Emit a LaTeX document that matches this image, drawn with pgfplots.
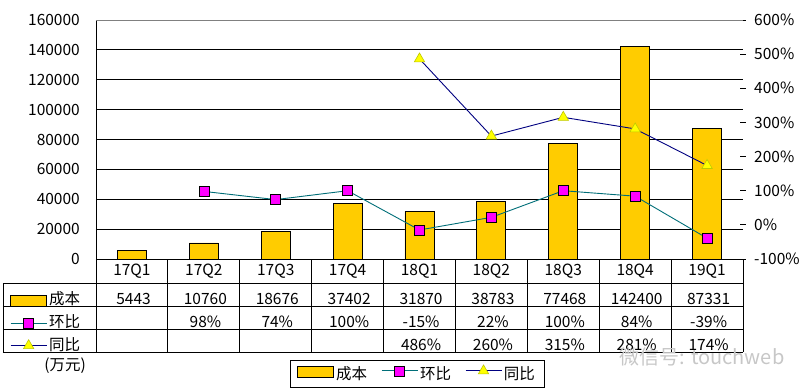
\documentclass[border=0pt]{standalone}
\usepackage{fontspec}
\setmainfont{Noto Sans CJK SC}
\usepackage{pgfplots}
\pgfplotsset{compat=1.18}
\definecolor{barfill}{RGB}{255,204,0}
\definecolor{qoq}{RGB}{0,110,120}
\definecolor{yoy}{RGB}{0,0,128}
\definecolor{sq}{RGB}{255,0,255}
\definecolor{tri}{RGB}{255,255,0}
\definecolor{triedge}{RGB}{190,200,0}
\newcommand{\tf}{\fontsize{15.5bp}{18bp}\selectfont}
\pgfplotsset{
  barkey/.style={fill=barfill, draw=black, line width=0.8bp},
  qoqstyle/.style={color=qoq, line width=0.9bp, mark=square*, mark size=5bp,
     mark options={fill=sq, draw=black, line width=0.6bp, solid}},
  yoystyle/.style={color=yoy, line width=0.9bp, mark=triangle*, mark size=6bp,
     mark options={fill=tri, draw=triedge, line width=0.6bp, solid}},
  barimage/.style={legend image code/.code={\draw[fill=barfill, draw=black, line width=0.8bp] (0bp,-2bp) rectangle (36bp,9bp);}},
  lineimage/.style={legend image code/.code={\draw[mark repeat=2,mark phase=2,##1] plot coordinates {(0bp,4.5bp) (18bp,4.5bp) (36bp,4.5bp)};}},
  keyaxis/.style={at={(0,0)}, anchor=south west, scale only axis, width=647bp, height=239bp,
    xmin=0, xmax=1, ymin=0, ymax=1, hide axis,
    legend style={at={(-0.1329,#1)}, anchor=north west, draw=none, fill=none,
      inner sep=0pt, font=\tf,
      nodes={inner xsep=2bp, inner ysep=0pt, text height=12bp, text depth=3bp, anchor=base west}},
    legend cell align=left},
}
\begin{document}
\begin{tikzpicture}
% left axis: bars
\begin{axis}[
  at={(0,0)}, anchor=south west,
  scale only axis, width=647bp, height=239bp,
  xmin=-0.5, xmax=8.5, ymin=0, ymax=160000,
  xtick=\empty, scaled y ticks=false,
  ytick={0,20000,40000,60000,80000,100000,120000,140000,160000},
  yticklabels={0,20000,40000,60000,80000,100000,120000,140000,160000},
  ymajorgrids, grid style={black, line width=0.8bp},
  major tick length=0pt,
  axis line style={draw=none},
  yticklabel style={font=\tf, inner sep=0pt, anchor=east, xshift=-16bp},
  legend columns=3,
  legend style={at={(0.2998,-0.4226)}, anchor=north west, draw=black, line width=0.8bp,
    inner xsep=7bp, inner ysep=4.5bp, font=\tf,
    nodes={inner xsep=2bp, inner ysep=0pt, text height=12bp, text depth=3bp},
    /tikz/every even column/.append style={column sep=12bp}},
  legend cell align=left,
]
\addplot[ybar, bar width=29bp, barkey, forget plot] coordinates {
  (0,5443) (1,10760) (2,18676) (3,37402) (4,31870) (5,38783) (6,77468) (7,142400) (8,87331)};
\addlegendimage{barimage}\addlegendentry{成本}
\addlegendimage{qoqstyle, lineimage}\addlegendentry{环比}
\addlegendimage{yoystyle, lineimage}\addlegendentry{同比}
\end{axis}
% right axis: lines
\begin{axis}[
  at={(0,0)}, anchor=south west,
  scale only axis, width=647bp, height=239bp,
  xmin=-0.5, xmax=8.5, ymin=-100, ymax=600,
  xtick=\empty,
  ytick={-100,0,100,200,300,400,500,600},
  yticklabels={-100\%,0\%,100\%,200\%,300\%,400\%,500\%,600\%},
  ytick pos=right, yticklabel pos=right,
  axis line style={draw=none},
  major tick length=6bp, tick align=center,
  tick style={black, line width=0.8bp},
  yticklabel style={font=\tf, inner sep=0pt, anchor=west, xshift=8bp},
]
\addplot[qoqstyle, forget plot] coordinates {
  (1,98) (2,74) (3,100) (4,-15) (5,22) (6,100) (7,84) (8,-39)};
\addplot[yoystyle, forget plot] coordinates {
  (4,486) (5,260) (6,315) (7,281) (8,174)};
\draw[black, line width=0.8bp] (rel axis cs:0,0) -- (rel axis cs:0,1);
\draw[black!50, line width=0.8bp] (rel axis cs:0,1) -- (rel axis cs:1,1);
\draw[black, line width=0.8bp] (rel axis cs:1,0) -- (rel axis cs:1,1);
\end{axis}
% row keys of the data table (one legend each)
\begin{axis}[keyaxis=-0.1381]
\addlegendimage{barimage}\addlegendentry{成本}
\end{axis}
\begin{axis}[keyaxis=-0.2364]
\addlegendimage{qoqstyle, lineimage}\addlegendentry{环比}
\end{axis}
\begin{axis}[keyaxis=-0.3305]
\addlegendimage{yoystyle, lineimage}\addlegendentry{同比}
\end{axis}
% data table
\begin{scope}[x=1bp, y=1bp, line width=0.8bp]
  \draw (0,0) -- (647,0);
  \foreach \k in {0,...,9} \draw ({\k*71.8889},0) -- ({\k*71.8889},-93);
  \draw (-93,-24) -- (647,-24);
  \draw (-93,-47) -- (647,-47);
  \draw (-93,-70) -- (647,-70);
  \draw (-93,-93) -- (647,-93);
  \draw (-93,-24) -- (-93,-93);
  \foreach \c [count=\i from 0] in {17Q1,17Q2,17Q3,17Q4,18Q1,18Q2,18Q3,18Q4,19Q1}
    \node[font=\tf, inner sep=0pt] at ({35.944+\i*71.8889},-12) {\c};
  \foreach \c [count=\i from 0] in {5443,10760,18676,37402,31870,38783,77468,142400,87331}
    \node[font=\tf, inner sep=0pt, anchor=base] at ({37.5+\i*71.8889},-45) {\c};
  \foreach \c [count=\i from 1] in {98\%,74\%,100\%,-15\%,22\%,100\%,84\%,-39\%}
    \node[font=\tf, inner sep=0pt, anchor=base] at ({37.5+\i*71.8889},-68.5) {\c};
  \foreach \c [count=\i from 4] in {486\%,260\%,315\%,281\%,174\%}
    \node[font=\tf, inner sep=0pt, anchor=base] at ({37.5+\i*71.8889},-91) {\c};
  \node[font=\tf, inner sep=0pt, anchor=base] at (-31,-111) {(万元)};
  \node[font=\fontsize{20bp}{24bp}\selectfont, text=black!22, inner sep=0pt] at (606,-98) {微信号: touchweb};
\end{scope}
\pgfresetboundingbox
\path[use as bounding box] (-96bp,-133bp) rectangle (713bp,259bp);
\end{tikzpicture}
\end{document}
